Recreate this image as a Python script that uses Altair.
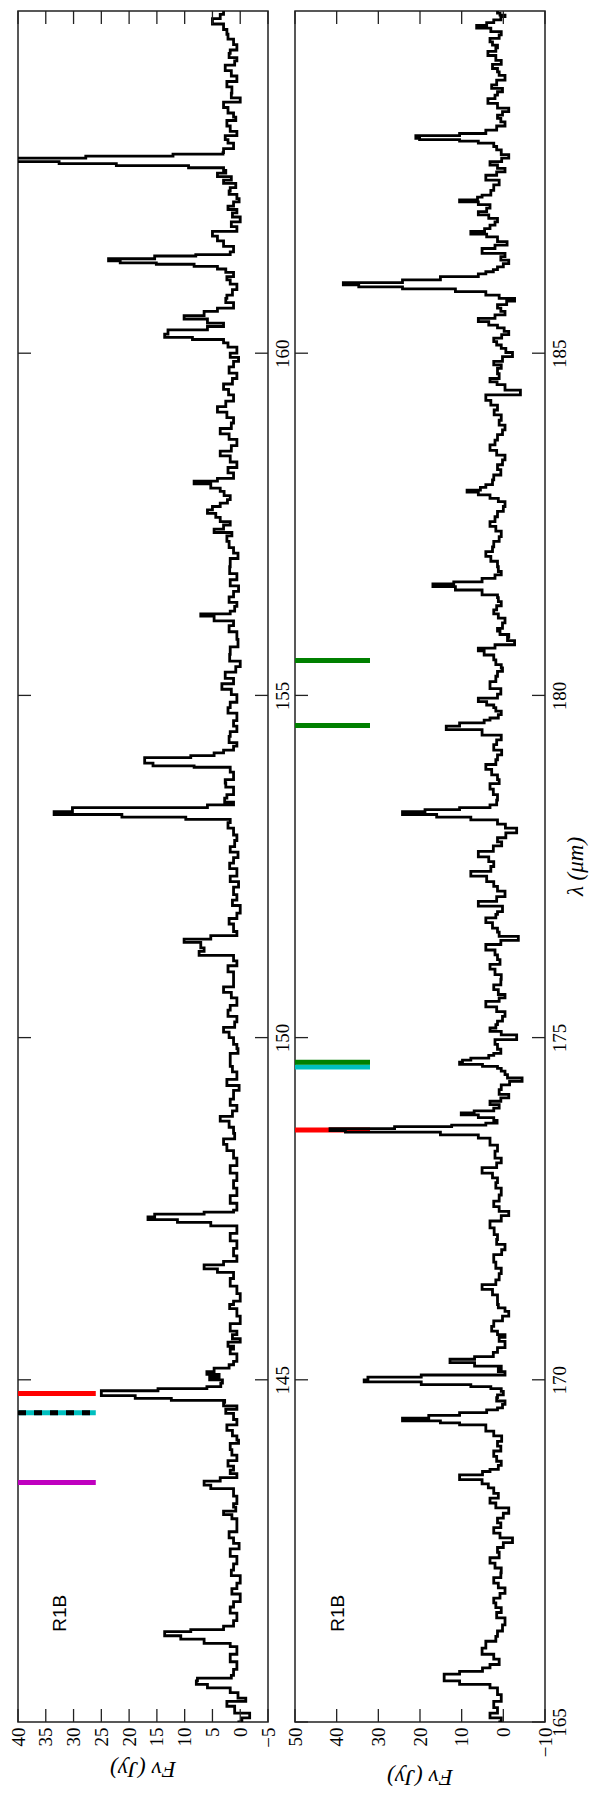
import altair as alt
import pandas as pd

# ---------------- data: top (left) panel, 140-165 um ----------------
lam_a = [140.00, 140.06, 140.13, 140.23, 140.30, 140.35, 140.43, 140.50, 140.55, 140.60, 140.64, 140.68,
         140.77, 140.88, 140.99, 141.10, 141.15, 141.21, 141.26, 141.32, 141.35, 141.40, 141.48, 141.59,
         141.68, 141.76, 141.87, 141.95, 142.03, 142.14, 142.22, 142.31, 142.42, 142.53, 142.61, 142.69,
         142.78, 142.86, 142.97, 143.03, 143.08, 143.14, 143.19, 143.30, 143.41, 143.46, 143.52, 143.57,
         143.63, 143.68, 143.74, 143.82, 143.90, 143.98, 144.07, 144.12, 144.18, 144.26, 144.34, 144.42,
         144.51, 144.57, 144.62, 144.67, 144.70, 144.73, 144.77, 144.81, 144.84, 144.87, 144.90, 144.95,
         145.00, 145.04, 145.08, 145.12, 145.17, 145.22, 145.27, 145.38, 145.45, 145.49, 145.55, 145.60,
         145.66, 145.71, 145.82, 145.93, 146.04, 146.10, 146.15, 146.26, 146.37, 146.48, 146.57, 146.62,
         146.68, 146.73, 146.81, 146.92, 147.03, 147.14, 147.25, 147.30, 147.34, 147.38, 147.42, 147.45,
         147.48, 147.58, 147.69, 147.80, 147.91, 148.02, 148.13, 148.24, 148.35, 148.44, 148.52, 148.60,
         148.69, 148.78, 148.85, 148.93, 149.01, 149.10, 149.23, 149.30, 149.39, 149.50, 149.58, 149.66,
         149.77, 149.84, 149.90, 150.00, 150.08, 150.15, 150.23, 150.31, 150.40, 150.47, 150.58, 150.66,
         150.74, 150.85, 150.96, 151.05, 151.12, 151.20, 151.26, 151.31, 151.39, 151.44, 151.49, 151.55,
         151.66, 151.74, 151.82, 151.93, 152.01, 152.09, 152.20, 152.28, 152.36, 152.47, 152.55, 152.63,
         152.71, 152.79, 152.88, 152.96, 153.06, 153.14, 153.19, 153.22, 153.26, 153.30, 153.36, 153.40,
         153.44, 153.50, 153.55, 153.66, 153.72, 153.77, 153.88, 153.95, 153.97, 154.01, 154.05, 154.09,
         154.12, 154.16, 154.20, 154.26, 154.31, 154.40, 154.47, 154.55, 154.63, 154.74, 154.82, 154.90,
         155.01, 155.09, 155.17, 155.25, 155.34, 155.42, 155.50, 155.60, 155.71, 155.82, 155.93, 156.02,
         156.09, 156.16, 156.19, 156.23, 156.30, 156.36, 156.44, 156.52, 156.60, 156.69, 156.78, 156.88,
         157.00, 157.08, 157.16, 157.25, 157.33, 157.38, 157.43, 157.49, 157.54, 157.60, 157.66, 157.71,
         157.76, 157.81, 157.86, 157.92, 157.98, 158.03, 158.09, 158.13, 158.17, 158.25, 158.33, 158.41,
         158.50, 158.57, 158.65, 158.74, 158.82, 158.90, 158.98, 159.06, 159.14, 159.22, 159.30, 159.39,
         159.47, 159.55, 159.63, 159.71, 159.80, 159.88, 159.94, 160.00, 160.09, 160.15, 160.20, 160.23,
         160.28, 160.34, 160.39, 160.44, 160.50, 160.55, 160.61, 160.66, 160.74, 160.80, 160.85, 160.93,
         161.01, 161.07, 161.12, 161.18, 161.23, 161.27, 161.30, 161.32, 161.35, 161.38, 161.42, 161.44,
         161.48, 161.56, 161.64, 161.71, 161.78, 161.85, 161.92, 161.99, 162.05, 162.10, 162.15, 162.21,
         162.26, 162.32, 162.37, 162.42, 162.48, 162.53, 162.58, 162.63, 162.67, 162.71, 162.74, 162.77,
         162.80, 162.82, 162.85, 162.88, 162.91, 162.93, 162.99, 163.07, 163.12, 163.18, 163.24, 163.32,
         163.40, 163.45, 163.51, 163.59, 163.67, 163.73, 163.80, 163.89, 163.97, 164.05, 164.13, 164.21,
         164.27, 164.32, 164.38, 164.43, 164.51, 164.59, 164.66, 164.73, 164.81, 164.89, 164.95, 165.00]
flux_a = [0.5, -0.3, -1.7, 1.0, 2.4, -1.0, 0.4, 1.8, 5.9, 7.9, 7.7, 1.6,
          1.2, 0.6, 1.8, 0.6, 1.8, 6.5, 10.7, 13.6, 8.9, 3.0, 1.2, 0.6,
          1.8, 1.2, 0.0, 1.5, 0.6, 0.0, 1.6, 1.2, 0.6, 1.8, 0.2, 1.2,
          2.0, 0.6, 0.6, 1.5, 3.0, 0.8, 1.2, 0.6, 1.2, 5.3, 6.5, 3.6,
          0.6, 1.8, 1.2, 2.2, 0.6, 1.5, 1.8, 0.3, 0.6, 1.4, 2.4, 0.6,
          1.2, 2.6, 0.6, 3.0, 2.8, 12.4, 18.9, 25.0, 25.0, 14.8, 6.0, 3.5,
          3.2, 5.5, 3.8, 6.0, 4.7, 2.0, 1.2, 0.6, 1.8, 1.2, 2.2, 0.0,
          1.4, 0.6, 1.8, 0.0, 0.6, 1.9, 1.2, 0.0, 0.6, 1.8, 1.2, 4.1,
          6.5, 3.0, 0.6, 1.2, 0.6, 1.8, 0.6, 5.3, 11.3, 16.6, 15.4, 6.5,
          1.2, 0.6, 1.8, 0.6, 1.2, 0.6, 1.8, 0.6, 1.2, 2.4, 3.0, 1.0,
          1.2, 2.0, 3.6, 1.4, 0.6, 1.8, 1.2, 0.2, 2.4, 0.6, 1.4, 1.8,
          1.8, 0.4, 0.6, 1.2, 2.0, 3.0, 1.0, 0.6, 2.2, 1.8, 0.6, 1.6,
          3.0, 1.2, 1.2, 2.2, 0.6, 1.2, 7.4, 6.5, 7.1, 10.1, 5.3, 0.6,
          1.2, 2.0, 0.6, 0.0, 1.4, 0.6, 1.2, 0.3, 1.8, 0.6, 1.9, 1.2,
          0.4, 1.8, 1.0, 0.6, 1.2, 2.2, 1.8, 9.8, 21.3, 33.5, 30.2, 5.9,
          1.2, 2.8, 2.4, 1.2, 2.6, 2.7, 1.2, 1.8, 8.3, 15.7, 17.2, 17.2,
          8.9, 4.7, 3.0, 1.2, 0.6, 2.0, 1.8, 0.6, 1.2, 0.6, 2.2, 1.8,
          0.6, 1.6, 3.3, 1.2, 2.7, 0.8, 0.0, 1.9, 1.8, 0.4, 0.6, 2.0,
          1.2, 4.7, 7.1, 1.8, 1.0, 0.6, 2.0, 1.2, 0.3, 1.8, 0.6, 1.9,
          1.8, 0.4, 1.2, 2.0, 2.4, 1.5, 4.7, 3.0, 1.8, 3.6, 4.4, 5.9,
          5.0, 3.6, 2.3, 1.8, 2.9, 3.6, 5.3, 8.3, 4.1, 1.2, 2.2, 0.6,
          1.8, 3.6, 1.6, 0.6, 2.0, 3.6, 1.6, 1.2, 2.4, 4.1, 2.6, 1.2,
          2.1, 3.0, 1.4, 0.6, 2.0, 1.2, 0.3, 1.8, 0.6, 2.2, 3.0, 8.6,
          13.6, 13.0, 5.9, 3.0, 5.9, 10.1, 6.5, 4.1, 1.2, 2.6, 2.4, 1.4,
          0.6, 1.8, 2.4, 1.2, 2.6, 4.1, 8.3, 15.1, 21.6, 23.7, 15.4, 8.0,
          1.8, 1.2, 3.0, 4.1, 5.0, 0.6, 1.6, 0.0, 1.4, 0.6, 2.2, 1.2,
          0.2, 0.6, 2.0, 1.8, 0.8, 3.0, 1.6, 4.1, 2.6, 3.0, 9.3, 22.3,
          32.6, 44.0, 44.0, 27.8, 12.1, 3.1, 3.0, 1.2, 2.2, 2.7, 0.6, 1.8,
          2.4, 0.8, 1.2, 2.2, 3.0, 0.0, 1.6, 1.5, 2.4, 0.6, 1.6, 2.7,
          1.0, 0.6, 2.0, 1.8, 0.6, 1.2, 2.2, 2.4, 3.0, 5.0, 3.6, 3.0]

# ---------------- data: bottom (right) panel, 165-190 um ----------------
lam_b = [165.00, 165.06, 165.13, 165.21, 165.30, 165.40, 165.50, 165.55, 165.60, 165.65, 165.70, 165.74,
         165.79, 165.84, 165.92, 165.99, 166.08, 166.18, 166.25, 166.33, 166.42, 166.52, 166.60, 166.67,
         166.74, 166.81, 166.88, 166.96, 167.03, 167.11, 167.18, 167.25, 167.32, 167.40, 167.48, 167.55,
         167.62, 167.69, 167.76, 167.84, 167.91, 167.98, 168.05, 168.13, 168.20, 168.27, 168.34, 168.42,
         168.48, 168.54, 168.61, 168.66, 168.69, 168.75, 168.81, 168.88, 168.96, 169.03, 169.10, 169.18,
         169.25, 169.34, 169.37, 169.40, 169.44, 169.48, 169.52, 169.56, 169.59, 169.64, 169.69, 169.74,
         169.78, 169.83, 169.87, 169.90, 169.93, 169.97, 170.00, 170.04, 170.07, 170.12, 170.16, 170.20,
         170.25, 170.30, 170.34, 170.40, 170.47, 170.56, 170.62, 170.66, 170.71, 170.78, 170.86, 170.93,
         171.00, 171.05, 171.10, 171.15, 171.24, 171.32, 171.39, 171.46, 171.55, 171.63, 171.72, 171.83,
         171.90, 171.98, 172.05, 172.12, 172.22, 172.32, 172.40, 172.46, 172.53, 172.61, 172.70, 172.80,
         172.88, 172.95, 173.02, 173.10, 173.17, 173.24, 173.34, 173.43, 173.53, 173.58, 173.62, 173.64,
         173.67, 173.70, 173.72, 173.75, 173.79, 173.83, 173.87, 173.90, 173.93, 173.97, 174.02, 174.07,
         174.12, 174.17, 174.24, 174.31, 174.36, 174.41, 174.46, 174.51, 174.55, 174.58, 174.61, 174.64,
         174.67, 174.70, 174.74, 174.77, 174.83, 174.90, 174.97, 175.04, 175.09, 175.14, 175.19, 175.24,
         175.31, 175.38, 175.45, 175.53, 175.58, 175.63, 175.70, 175.77, 175.85, 175.92, 176.00, 176.07,
         176.14, 176.21, 176.28, 176.36, 176.42, 176.48, 176.54, 176.60, 176.68, 176.75, 176.80, 176.84,
         176.92, 176.99, 177.06, 177.14, 177.21, 177.28, 177.36, 177.43, 177.50, 177.57, 177.64, 177.72,
         177.80, 177.86, 177.92, 177.99, 178.06, 178.12, 178.18, 178.22, 178.26, 178.30, 178.33, 178.36,
         178.40, 178.47, 178.55, 178.63, 178.71, 178.77, 178.84, 178.92, 178.99, 179.06, 179.13, 179.20,
         179.28, 179.35, 179.42, 179.50, 179.55, 179.60, 179.64, 179.67, 179.72, 179.77, 179.82, 179.86,
         179.91, 179.96, 180.02, 180.10, 180.20, 180.28, 180.35, 180.40, 180.45, 180.52, 180.59, 180.65,
         180.69, 180.74, 180.80, 180.85, 180.89, 180.94, 180.98, 181.06, 181.13, 181.19, 181.25, 181.31,
         181.37, 181.43, 181.47, 181.54, 181.59, 181.63, 181.66, 181.71, 181.76, 181.81, 181.88, 181.96,
         182.03, 182.10, 182.17, 182.25, 182.32, 182.40, 182.47, 182.54, 182.61, 182.69, 182.76, 182.83,
         182.88, 182.93, 182.97, 183.00, 183.04, 183.08, 183.15, 183.22, 183.30, 183.37, 183.44, 183.51,
         183.58, 183.66, 183.73, 183.81, 183.88, 183.95, 184.02, 184.10, 184.17, 184.24, 184.31, 184.39,
         184.46, 184.54, 184.58, 184.63, 184.70, 184.78, 184.83, 184.88, 184.95, 185.01, 185.07, 185.12,
         185.17, 185.22, 185.27, 185.32, 185.37, 185.41, 185.46, 185.51, 185.56, 185.61, 185.66, 185.71,
         185.76, 185.80, 185.85, 185.90, 185.94, 185.97, 186.00, 186.03, 186.07, 186.12, 186.16, 186.19,
         186.22, 186.26, 186.31, 186.36, 186.41, 186.46, 186.53, 186.58, 186.63, 186.70, 186.74, 186.78,
         186.82, 186.87, 186.92, 186.97, 187.02, 187.07, 187.12, 187.17, 187.21, 187.24, 187.28, 187.31,
         187.38, 187.46, 187.53, 187.60, 187.65, 187.70, 187.75, 187.80, 187.85, 187.90, 187.97, 188.02,
         188.07, 188.10, 188.12, 188.14, 188.18, 188.21, 188.26, 188.32, 188.38, 188.43, 188.48, 188.53,
         188.58, 188.65, 188.72, 188.77, 188.82, 188.87, 188.92, 188.99, 189.06, 189.11, 189.16, 189.22,
         189.28, 189.35, 189.41, 189.46, 189.50, 189.55, 189.60, 189.65, 189.70, 189.75, 189.79, 189.83,
         189.87, 189.92, 189.94, 189.97, 190.00]
flux_b = [1.2, 0.5, 3.2, 1.4, 2.3, 0.5, 1.4, 3.2, 10.5, 14.2, 14.2, 10.5,
          5.0, 3.2, 1.0, 2.3, 5.1, 4.2, 1.8, 1.4, 0.2, -0.4, 1.6, 0.5,
          1.8, 2.3, 0.8, -0.4, 1.2, 2.3, 0.6, 0.5, 2.0, 3.2, 1.0, 1.4,
          0.0, -2.2, 0.8, 2.3, 0.6, 1.4, 0.0, -1.3, 1.8, 3.2, 1.2, 2.3,
          3.6, 5.1, 10.5, 5.0, 3.2, 1.2, 0.5, 1.6, 2.3, 0.6, 1.4, 0.4,
          2.3, 4.2, 10.5, 15.1, 24.2, 17.9, 10.5, 4.0, 1.4, 0.2, -0.4, 1.6,
          1.4, 0.0, 0.5, 3.0, 7.8, 19.7, 33.4, 32.5, 19.7, -0.4, 1.2, 0.5,
          6.9, 12.8, 6.9, 2.4, 1.4, -0.4, 1.0, -0.4, 1.4, 2.8, 2.3, 0.2,
          -1.3, -0.4, 1.2, 1.4, 1.4, 2.6, 5.1, 1.8, 1.0, 0.5, 1.8, 2.3,
          0.4, -0.4, 1.6, 1.4, 2.2, 3.2, 0.5, -1.3, 1.0, 2.3, 1.0, 0.5,
          1.8, 1.4, 2.6, 5.1, 1.6, 0.5, 2.0, 1.4, 3.2, 6.0, 15.1, 37.9,
          41.6, 26.1, 12.4, 4.2, 1.5, 2.3, 6.0, 10.1, 7.0, 2.3, 1.0, 3.2,
          0.6, -1.3, 1.0, 0.5, -1.5, -4.5, -1.0, -0.4, 0.5, 1.4, 5.0, 10.5,
          9.8, 7.8, 3.5, 2.3, 0.6, 1.4, 2.0, -3.2, 0.5, 3.2, 1.8, 1.4,
          0.2, -0.4, 1.6, 4.2, 1.0, -0.4, 1.2, 2.3, 0.6, 0.5, 2.0, 3.2,
          0.8, 1.4, 2.0, 4.2, 0.6, -3.6, 1.0, 1.4, 2.6, 4.2, 1.8, 1.4,
          0.2, 6.0, 1.6, -0.4, 1.4, 2.3, 4.0, 7.8, 3.0, 2.3, 3.5, 6.0,
          2.4, 0.4, 1.4, -0.6, -3.2, -0.5, 1.4, 7.8, 16.0, 24.2, 18.8, 10.5,
          3.2, 1.6, 1.4, 2.4, 3.2, 1.0, 1.4, 2.8, 4.2, 1.8, 1.4, 0.4,
          2.3, 1.6, 0.5, 5.1, 13.7, 10.5, 4.6, 3.2, 1.2, 0.5, 1.8, 2.3,
          4.0, 6.0, 1.4, 0.6, 3.2, 1.8, 1.4, 0.2, 0.5, 1.8, 2.3, 4.6,
          6.0, 2.0, -2.7, -1.0, -1.3, 0.8, 1.4, 0.2, -0.4, 1.2, 2.3, 1.6,
          0.5, 1.2, 1.4, 5.1, 11.5, 16.9, 11.9, 5.1, 2.0, 0.5, 1.2, 1.4,
          3.0, 4.2, 2.6, 2.3, 1.0, 0.5, 1.8, 3.2, 2.0, 1.4, 0.0, -0.4,
          1.2, 3.2, 6.0, 8.7, 5.5, 4.2, 2.6, 2.3, 0.6, 1.4, 0.2, -0.4,
          1.6, 3.2, 2.0, 1.4, 0.2, -0.4, 1.0, 0.5, 2.2, 1.4, 3.0, 4.2,
          -4.1, -0.4, 1.5, 3.2, 1.0, 1.4, 0.5, 2.3, 0.2, -2.2, -0.6, 0.5,
          1.6, 2.3, 0.4, -1.3, -0.2, 1.4, 3.5, 6.0, 2.0, -0.4, 0.6, 1.4,
          -0.8, -2.7, 1.0, 4.2, 11.5, 24.2, 34.7, 38.4, 24.2, 15.1, 6.0, 4.2,
          2.4, 1.4, 0.0, -1.3, 0.6, -0.4, 5.1, 2.0, -0.9, 1.4, 4.0, 7.8,
          4.5, 3.2, 2.0, 1.4, 3.5, 6.0, 4.0, 3.2, 6.0, 10.5, 6.2, 5.1,
          3.0, 2.3, 1.0, 4.2, 1.6, -0.4, 1.4, 3.2, 0.4, -1.3, 0.5, 1.6,
          2.3, 6.0, 10.5, 20.1, 21.0, 10.5, 4.2, 1.6, -0.4, 0.6, 1.4, 0.2,
          -1.3, 1.4, 3.7, 2.0, 1.4, 0.2, 2.8, 1.6, -0.4, 1.0, 1.4, 2.6,
          0.5, 1.8, 3.7, 1.8, 1.4, 2.6, 3.2, 1.0, 0.5, 3.0, 6.4, 4.0,
          2.3, 0.6, -0.4, 0.8, 1.4]

# line identifications (wavelengths)
marks_a_red = [144.80]
marks_a_cyan_dashed = [144.52]
marks_a_magenta = [143.50]
marks_b_cyan = [174.57]
marks_b_green = [174.64, 179.56, 180.51]
marks_b_red = [173.65]

# axes
lam_ticks_a = [145, 150, 155, 160]
lam_ticks_b = [165, 170, 175, 180, 185]
flux_ticks_a = [40, 35, 30, 25, 20, 15, 10, 5, 0, -5]
flux_ticks_b = [50, 40, 30, 20, 10, 0, -10]
lam_dom_a = [140, 165]
lam_dom_b = [165, 190]
flux_dom_a = [-5, 40]
flux_dom_b = [-10, 50]

label_text = "R1B"
label_pos_a = (141.59, 32.4)
label_pos_b = (166.59, 39.6)
flux_title = "F\u03bd (Jy)"
lam_title = "\u03bb (\u03bcm)"

W, H = 250, 1711
TICK = 13
SERIF = "Liberation Serif"


def panel(lam, flux, lam_dom, flux_dom, lam_ticks, flux_ticks, markers, mk_from, mk_to,
          label_pos, xtitle_dy, with_lam_title):
    xs = alt.Scale(domain=flux_dom, reverse=True, nice=False, zero=False)
    ys = alt.Scale(domain=lam_dom, nice=False, zero=False)
    x_axis = alt.Axis(values=flux_ticks, ticks=False, domain=False, grid=False,
                      labelAngle=270, labelAlign="right", labelBaseline="middle",
                      labelFont=SERIF, labelFontSize=19, labelColor="black", labelPadding=5,
                      labelFlush=False, labelOverlap=False, title=None)
    y_axis = alt.Axis(orient="right", values=lam_ticks, ticks=False, domain=False, grid=False,
                      labelAngle=270, labelAlign="center", labelBaseline="top",
                      labelFont=SERIF, labelFontSize=19, labelColor="black", labelPadding=5,
                      labelFlush=False, labelOverlap=False, title=None)

    def X(field):
        return alt.X(field, scale=xs, axis=x_axis)

    def Y(field):
        return alt.Y(field, scale=ys, axis=y_axis)

    df = pd.DataFrame({"lam": lam, "flux": flux})
    layers = []
    # marker bars (under the spectrum)
    for lam_list, color, dash in markers:
        mdf = pd.DataFrame({"lam": lam_list, "flux": [mk_from] * len(lam_list),
                            "x1": [mk_to] * len(lam_list)})
        layers.append(alt.Chart(mdf).mark_rule(color=color, strokeWidth=5).encode(
            y=Y("lam:Q"), x=X("flux:Q"), x2="x1:Q"))
        if dash:
            layers.append(alt.Chart(mdf).mark_rule(color="black", strokeWidth=5,
                                                   strokeDash=[8, 8]).encode(
                y=Y("lam:Q"), x=X("flux:Q"), x2="x1:Q"))
    # spectrum
    layers.append(alt.Chart(df).mark_line(color="black", strokeWidth=2.8,
                                          interpolate="step-after", clip=True,
                                          orient="vertical").encode(
        x=X("flux:Q"), y=Y("lam:Q"), order=alt.Order("lam:Q")))

    # inward ticks
    ft = pd.DataFrame({"flux": flux_ticks})
    lt = pd.DataFrame({"lam": lam_ticks})
    tick_style = dict(color="#222222", strokeWidth=1.3)
    layers.append(alt.Chart(ft).mark_rule(**tick_style).encode(
        x=X("flux:Q"), y=alt.value(0), y2=alt.value(TICK)))
    layers.append(alt.Chart(ft).mark_rule(**tick_style).encode(
        x=X("flux:Q"), y=alt.value(H - TICK), y2=alt.value(H)))
    layers.append(alt.Chart(lt).mark_rule(**tick_style).encode(
        y=Y("lam:Q"), x=alt.value(0), x2=alt.value(TICK)))
    layers.append(alt.Chart(lt).mark_rule(**tick_style).encode(
        y=Y("lam:Q"), x=alt.value(W - TICK), x2=alt.value(W)))

    # panel label
    tdf = pd.DataFrame({"lam": [label_pos[0]], "flux": [label_pos[1]], "t": [label_text]})
    layers.append(alt.Chart(tdf).mark_text(angle=270, font="Liberation Sans", fontSize=19,
                                           color="black", align="center",
                                           baseline="middle").encode(
        x=X("flux:Q"), y=Y("lam:Q"), text="t:N"))

    # axis titles drawn as text
    layers.append(alt.Chart(pd.DataFrame({"t": [flux_title]})).mark_text(
        angle=180, font=SERIF, fontSize=23, fontStyle="italic", color="black",
        align="center", baseline="middle").encode(
        x=alt.value(W / 2), y=alt.value(H + xtitle_dy), text="t:N"))
    if with_lam_title:
        layers.append(alt.Chart(pd.DataFrame({"t": [lam_title]})).mark_text(
            angle=270, font=SERIF, fontSize=23, fontStyle="italic", color="black",
            align="center", baseline="middle").encode(
            x=alt.value(W + 31), y=alt.value(H / 2), text="t:N"))

    return alt.layer(*layers).properties(width=W, height=H)


left = panel(lam_a, flux_a, lam_dom_a, flux_dom_a, lam_ticks_a, flux_ticks_a,
             [(marks_a_red, "#ff0000", False), (marks_a_cyan_dashed, "#00bfbf", True),
              (marks_a_magenta, "#bf00bf", False)], 40, 26, label_pos_a, 47, False)
right = panel(lam_b, flux_b, lam_dom_b, flux_dom_b, lam_ticks_b, flux_ticks_b,
              [(marks_b_cyan, "#00bfbf", False), (marks_b_green, "#008000", False),
               (marks_b_red, "#ff0000", False)], 50, 32, label_pos_b, 55, True)

chart = alt.hconcat(left, right, spacing=27, bounds="flush").properties(
    padding={"left": 0, "top": 1, "right": 0, "bottom": 0}
).configure_view(stroke="#222222", strokeWidth=1.5)

chart.save("out.html", embed_options={"renderer": "svg", "actions": False})
